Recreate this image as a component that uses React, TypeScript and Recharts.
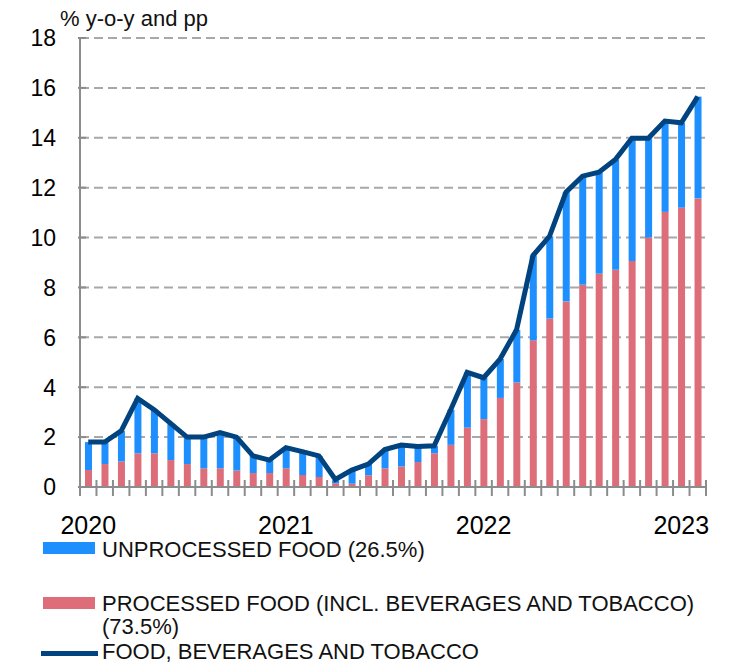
import React from 'react'
import { ComposedChart, Bar, Line, XAxis, YAxis, CartesianGrid } from 'recharts'

const months = [
  '2020-01', '2020-02', '2020-03', '2020-04', '2020-05', '2020-06',
  '2020-07', '2020-08', '2020-09', '2020-10', '2020-11', '2020-12',
  '2021-01', '2021-02', '2021-03', '2021-04', '2021-05', '2021-06',
  '2021-07', '2021-08', '2021-09', '2021-10', '2021-11', '2021-12',
  '2022-01', '2022-02', '2022-03', '2022-04', '2022-05', '2022-06',
  '2022-07', '2022-08', '2022-09', '2022-10', '2022-11', '2022-12',
  '2023-01', '2023-02',
]

// processed food (incl. beverages and tobacco), contribution in pp
const processed = [
  0.68, 0.92, 1.02, 1.35, 1.35, 1.08, 0.92, 0.75, 0.75, 0.66, 0.56, 0.56,
  0.75, 0.48, 0.4, 0.15, 0.13, 0.47, 0.75, 0.82, 1.0, 1.35, 1.69, 2.38,
  2.72, 3.57, 4.19, 5.88, 6.75, 7.44, 8.11, 8.55, 8.71, 9.06, 10.0, 11.03,
  11.2, 11.57,
]

// unprocessed food, contribution in pp
const unprocessed = [
  1.12, 0.88, 1.23, 2.2, 1.75, 1.47, 1.08, 1.25, 1.43, 1.34, 0.69, 0.52,
  0.83, 0.94, 0.85, 0.12, 0.55, 0.45, 0.75, 0.86, 0.62, 0.3, 1.41, 2.22,
  1.66, 1.56, 2.11, 3.4, 3.3, 4.38, 4.35, 4.07, 4.42, 4.92, 3.98, 3.64,
  3.4, 4.08,
]

// food, beverages and tobacco, % y-o-y
const total = [
  1.8, 1.8, 2.25, 3.55, 3.1, 2.55, 2.0, 2.0, 2.18, 2.0, 1.25, 1.08,
  1.58, 1.42, 1.25, 0.3, 0.68, 0.92, 1.5, 1.68, 1.62, 1.65, 3.1, 4.6,
  4.38, 5.13, 6.3, 9.28, 10.05, 11.82, 12.46, 12.62, 13.13, 13.98, 13.98, 14.67,
  14.6, 15.65,
]

const yTicks = [0, 2, 4, 6, 8, 10, 12, 14, 16, 18]

const labels = {
  title: '% y-o-y and pp',
  unprocessed: 'UNPROCESSED FOOD (26.5%)',
  processed: 'PROCESSED FOOD (INCL. BEVERAGES AND TOBACCO)',
  processedShare: '(73.5%)',
  total: 'FOOD, BEVERAGES AND TOBACCO',
}

const BLUE = '#1e8fff'
const RED = '#dc6d79'
const NAVY = '#00437f'
const AXIS = '#8c8c8c'
const GRID = '#a8a8a8'
const FONT = '"Liberation Sans", Arial, Helvetica, sans-serif'

const W = 721
const H = 655
const MARGIN = { top: 30, right: 23, bottom: 136, left: 0 }
const Y_WIDTH = 72
const X_HEIGHT = 40
const BAND = (W - MARGIN.left - MARGIN.right - Y_WIDTH) / months.length

const data = months.map((m, i) => ({
  month: m,
  processed: processed[i],
  unprocessed: unprocessed[i],
  total: total[i],
}))

function XTick(props: any) {
  const { x, y, payload, index } = props
  const month = String(payload.value)
  const left = x - BAND / 2
  const isLast = index === months.length - 1
  return (
    <g>
      <line x1={left} x2={left} y1={y - 9} y2={y + 7} stroke={AXIS} strokeWidth={2} />
      {isLast && (
        <line x1={x + BAND / 2} x2={x + BAND / 2} y1={y - 9} y2={y + 7} stroke={AXIS} strokeWidth={2} />
      )}
      {month.endsWith('-01') && (
        <text x={x} y={y + 45} textAnchor="middle" fontSize={25} fill="#000" fontFamily={FONT}>
          {month.slice(0, 4)}
        </text>
      )}
    </g>
  )
}

function YTick(props: any) {
  const { x, y, payload } = props
  return (
    <g>
      <line x1={x} x2={x + 8} y1={y} y2={y} stroke={AXIS} strokeWidth={2} />
      <text x={x - 22} y={y} dy="0.36em" textAnchor="end" fontSize={23} fill="#000" fontFamily={FONT}>
        {payload.value}
      </text>
    </g>
  )
}

const legendText: React.CSSProperties = {
  position: 'absolute',
  left: 94,
  fontSize: 22,
  lineHeight: '26px',
  fontFamily: FONT,
  color: '#111',
  whiteSpace: 'nowrap',
}

export default function App() {
  return (
    <div style={{ position: 'relative', width: W, height: H, fontFamily: FONT }}>
      <ComposedChart width={W} height={H} data={data} margin={MARGIN} barCategoryGap={0}>
        <CartesianGrid
          vertical={false}
          stroke={GRID}
          strokeWidth={2}
          strokeDasharray="9 5"
        />
        <XAxis
          dataKey="month"
          interval={0}
          height={X_HEIGHT}
          axisLine={{ stroke: AXIS, strokeWidth: 2 }}
          tickLine={false}
          tickSize={0}
          tick={<XTick />}
        />
        <YAxis
          domain={[0, 18]}
          ticks={yTicks}
          width={Y_WIDTH}
          axisLine={{ stroke: AXIS, strokeWidth: 2 }}
          tickLine={false}
          tickSize={0}
          tick={<YTick />}
        />
        <Bar dataKey="processed" stackId="food" fill={RED} barSize={7} isAnimationActive={false} />
        <Bar dataKey="unprocessed" stackId="food" fill={BLUE} barSize={7} isAnimationActive={false} />
        <Line
          type="linear"
          dataKey="total"
          stroke={NAVY}
          strokeWidth={5}
          dot={false}
          activeDot={false}
          isAnimationActive={false}
        />
      </ComposedChart>

      <div style={{ position: 'absolute', left: 52, top: -2, fontSize: 22, fontFamily: FONT, color: '#111', whiteSpace: 'nowrap' }}>
        {labels.title}
      </div>

      <div style={{ position: 'absolute', left: 35, top: 534, width: 52, height: 12, background: BLUE }} />
      <div style={{ ...legendText, top: 529 }}>{labels.unprocessed}</div>

      <div style={{ position: 'absolute', left: 35, top: 589, width: 52, height: 12, background: RED }} />
      <div style={{ ...legendText, top: 583.5, lineHeight: '23px' }}>
        {labels.processed}
        <br />
        {labels.processedShare}
      </div>

      <div style={{ position: 'absolute', left: 33, top: 643, width: 57, height: 5, background: NAVY }} />
      <div style={{ ...legendText, top: 634, lineHeight: '20px' }}>{labels.total}</div>
    </div>
  )
}
